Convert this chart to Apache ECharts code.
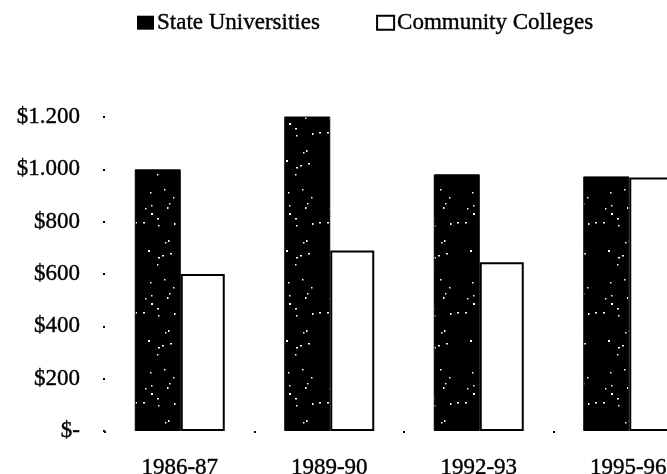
<!DOCTYPE html>
<html>
<head>
<meta charset="utf-8">
<script src="https://cdn.jsdelivr.net/npm/echarts@6/dist/echarts.min.js"></script>
<style>
html,body{margin:0;padding:0;background:#fff;}
#chart{width:667px;height:474px;}
</style>
</head>
<body>
<div id="chart"></div>
<script>
var categories = ['1986-87', '1989-90', '1992-93', '1995-96'];
var stateUniversities = [1000, 1208, 981, 973];
var communityColleges = [600, 690, 645, 969];
var yTickLabels = ['$-', '$200', '$400', '$600', '$800', '$1.000', '$1.200'];

// speckled texture for dark bars (fixed pseudo-pattern, not data)
function makeSpeckle() {
  var c = document.createElement('canvas');
  c.width = 46; c.height = 90;
  var ctx = c.getContext('2d');
  ctx.fillStyle = '#000';
  ctx.fillRect(0, 0, c.width, c.height);
  ctx.fillStyle = '#fff';
  var s = 12345;
  function nx() { s = (s * 1103515245 + 12345) % 2147483648; return s / 2147483648; }
  for (var i = 0; i < 20; i++) {
    var x = Math.floor(nx() * 44) + 1, y = Math.floor(nx() * 88) + 1;
    ctx.fillRect(x, y, nx() > 0.7 ? 2 : 1.5, nx() > 0.7 ? 2 : 1.5);
  }
  return c;
}
var speckle = makeSpeckle();
var fontFam = '"Liberation Serif", "Times New Roman", serif';
var txt = {fontFamily: fontFam, fontSize: 23, color: '#000', textBorderColor: '#000', textBorderWidth: 0.4};

var chart = echarts.init(document.getElementById('chart'), null, {renderer: 'canvas'});
chart.setOption({
  animation: false,
  backgroundColor: '#fff',
  textStyle: {fontFamily: fontFam, color: '#000'},
  legend: {
    left: 137, top: 11, padding: 0,
    itemWidth: 17, itemHeight: 14, itemGap: 56,
    textStyle: Object.assign({}, txt, {padding: [0, 0, 0, -2]}),
    data: [
      {name: 'State Universities', icon: 'rect', itemStyle: {color: '#000', borderWidth: 0}},
      {name: 'Community Colleges', icon: 'rect', itemStyle: {color: '#fff', borderColor: '#000', borderWidth: 2}}
    ]
  },
  grid: {left: 105, width: 598, top: 117, bottom: 43, containLabel: false, outerBoundsMode: 'none'},
  xAxis: {
    type: 'category',
    data: categories,
    axisLine: {show: false},
    axisTick: {show: true, length: 2, lineStyle: {color: '#000', width: 2}},
    axisLabel: Object.assign({}, txt, {margin: 25}),
    splitLine: {show: false}
  },
  yAxis: {
    type: 'value',
    min: 0, max: 1200, interval: 200,
    axisLine: {show: false},
    axisTick: {show: true, length: 2, lineStyle: {color: '#000', width: 2}},
    splitLine: {show: false},
    axisLabel: Object.assign({}, txt, {
      margin: 25,
      formatter: function (v) { return yTickLabels[Math.round(v / 200)]; }
    })
  },
  series: [
    {
      name: 'State Universities', type: 'bar', barWidth: 46, barGap: '0%',
      data: stateUniversities,
      itemStyle: {color: {image: speckle, repeat: 'repeat'}, borderColor: '#000', borderWidth: 1}
    },
    {
      name: 'Community Colleges', type: 'bar', barWidth: 44,
      data: communityColleges,
      itemStyle: {color: '#fff', borderColor: '#000', borderWidth: 2}
    }
  ]
});
</script>
</body>
</html>
